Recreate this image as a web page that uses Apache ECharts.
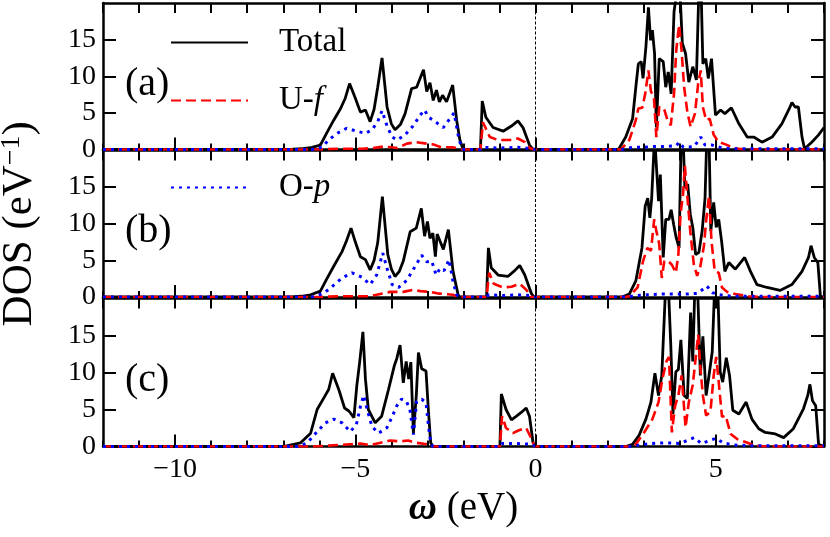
<!DOCTYPE html>
<html>
<head>
<meta charset="utf-8">
<script src="https://cdn.jsdelivr.net/npm/echarts@6/dist/echarts.min.js"></script>
<style>
  html, body { margin: 0; padding: 0; background: #fff; }
  #chart { width: 830px; height: 537px; }
</style>
</head>
<body>
<div id="chart"></div>
<script>
(function(){

  // tick values and names
  var xTicks = [-10, -5, 0, 5];
  var yTicks = [0, 5, 10, 15];
  var seriesNames = ['Total', 'U-f', 'O-p'];
  var panelLabels = ['(a)', '(b)', '(c)'];

  // panel (a)
  var totalA = [[-12,0],[-6.8,0],[-6.5,0.1],[-6.2,0.3],[-5.97,0.6],[-5.8,2.2],[-5.6,4.0],[-5.41,5.6],[-5.28,7.0],[-5.16,9.0],[-5.0,7.0],[-4.86,5.1],[-4.72,5.4],[-4.59,3.8],[-4.48,5.5],[-4.38,8.5],[-4.26,12.5],[-4.12,5.8],[-4.0,3.5],[-3.9,2.7],[-3.75,3.4],[-3.62,4.9],[-3.44,8.3],[-3.3,8.5],[-3.11,10.9],[-3.02,7.9],[-2.93,9.1],[-2.84,6.7],[-2.75,8.1],[-2.67,6.5],[-2.58,7.4],[-2.47,6.5],[-2.3,8.8],[-2.19,4.0],[-2.1,1.3],[-2.01,0],[-1.53,0],[-1.48,6.6],[-1.38,4.4],[-1.18,3.0],[-0.9,2.5],[-0.67,3.2],[-0.49,3.9],[-0.35,3.0],[-0.17,0.6],[-0.07,0],[2.3,0],[2.5,1.7],[2.69,4.2],[2.78,8.5],[2.85,11.7],[2.93,12.0],[2.98,9.7],[3.06,14.0],[3.13,19.4],[3.19,14.9],[3.24,16.3],[3.3,13.1],[3.35,3.0],[3.43,12.4],[3.54,12.0],[3.61,8.5],[3.68,10.6],[3.76,7.6],[3.84,18.8],[3.93,22],[4.0,22],[4.07,14.5],[4.16,13.1],[4.25,9.2],[4.36,11.3],[4.46,9.5],[4.53,22],[4.59,22],[4.64,11.7],[4.72,12.4],[4.79,9.7],[4.88,12.4],[4.99,4.7],[5.13,5.4],[5.25,4.9],[5.43,5.7],[5.64,3.5],[5.87,1.7],[6.05,1.7],[6.28,1.0],[6.56,1.7],[6.83,3.5],[7.02,5.4],[7.11,6.4],[7.2,5.8],[7.29,5.8],[7.39,1.7],[7.46,0.1],[7.66,1.0],[7.85,2.0],[8,3.0]];
  var ufA = [[-12,0],[-6.0,0],[-5.5,0.1],[-4.8,0.1],[-4.5,0.2],[-4.23,0.4],[-4.0,0.3],[-3.84,0.2],[-3.57,0.8],[-3.3,1.0],[-3.02,0.8],[-2.84,0.7],[-2.62,0.3],[-2.3,0.3],[-2.05,0],[-1.53,0],[-1.46,3.7],[-1.27,1.7],[-1.04,1.3],[-0.72,1.3],[-0.49,1.5],[-0.3,1.0],[-0.17,0.2],[-0.05,0],[2.37,0],[2.6,1.3],[2.78,4.0],[2.85,5.6],[2.96,5.7],[3.04,7.6],[3.13,10.8],[3.2,7.9],[3.28,7.2],[3.35,1.7],[3.43,5.8],[3.56,5.6],[3.66,4.0],[3.75,3.3],[3.84,7.6],[3.9,13.5],[3.98,17.0],[4.05,13.5],[4.12,8.5],[4.21,5.1],[4.3,3.1],[4.42,4.9],[4.51,9.0],[4.58,10.8],[4.64,5.8],[4.73,4.0],[4.83,4.2],[4.94,2.0],[5.08,1.0],[5.27,0.7],[5.5,0.2],[5.8,0],[8,0]];
  var opA = [[-12,0],[-6.2,0],[-5.93,0.3],[-5.74,1.3],[-5.51,2.2],[-5.24,2.9],[-4.96,2.5],[-4.72,2.2],[-4.54,2.7],[-4.38,3.8],[-4.26,5.3],[-4.12,3.2],[-3.98,1.7],[-3.84,1.3],[-3.62,2.0],[-3.4,3.2],[-3.2,4.7],[-3.08,5.4],[-2.97,4.4],[-2.84,4.0],[-2.7,3.5],[-2.56,3.0],[-2.38,4.2],[-2.26,5.0],[-2.15,2.0],[-2.06,0.3],[-2.0,0],[-1.53,0],[-1.45,0.3],[-1.0,0.2],[-0.5,0.3],[-0.1,0.1],[0,0],[2.4,0],[2.7,0.3],[3.0,0.3],[3.2,0.4],[3.5,0.4],[3.9,0.5],[3.98,1.0],[4.1,0.3],[4.4,0.4],[4.58,1.7],[4.7,0.6],[4.9,0.6],[5.2,0.2],[5.5,0.1],[8,0.1]];

  // panel (b)
  var totalB = [[-12,0],[-6.8,0],[-6.5,0.1],[-6.24,0.3],[-5.97,0.8],[-5.8,2.4],[-5.6,4.2],[-5.37,6.2],[-5.25,7.6],[-5.12,9.4],[-5.0,7.5],[-4.86,5.5],[-4.72,5.1],[-4.59,3.7],[-4.48,5.0],[-4.38,7.4],[-4.25,13.7],[-4.1,5.8],[-4.0,3.8],[-3.9,2.8],[-3.78,3.5],[-3.67,4.9],[-3.48,8.9],[-3.31,9.4],[-3.17,12.1],[-3.08,8.3],[-3.0,10.3],[-2.93,8.0],[-2.85,8.7],[-2.78,5.5],[-2.73,8.6],[-2.65,7.6],[-2.56,6.5],[-2.42,9.2],[-2.29,3.5],[-2.15,0.3],[-2.1,0],[-1.36,0],[-1.31,6.7],[-1.23,4.0],[-1.04,3.0],[-0.77,2.8],[-0.58,3.6],[-0.44,4.3],[-0.3,3.0],[-0.12,0.5],[-0.05,0],[2.4,0],[2.6,0.4],[2.78,2.2],[2.95,6.7],[3.04,12.4],[3.11,13.5],[3.17,10.8],[3.22,13.5],[3.3,22],[3.35,22],[3.41,13.1],[3.46,16.7],[3.54,5.4],[3.61,10.6],[3.7,10.6],[3.76,11.9],[3.83,9.9],[3.9,8.1],[3.98,6.7],[4.03,19.9],[4.09,22],[4.14,14.9],[4.22,15.4],[4.29,11.3],[4.36,9.5],[4.44,5.8],[4.53,6.1],[4.62,9.0],[4.7,13.5],[4.75,22],[4.81,22],[4.86,9.0],[4.94,12.9],[5.01,9.5],[5.08,10.6],[5.16,7.6],[5.25,3.5],[5.36,4.7],[5.54,3.8],[5.8,5.4],[5.96,3.5],[6.14,1.7],[6.42,1.3],[6.78,0.9],[7.11,1.7],[7.39,3.5],[7.57,5.4],[7.64,7.0],[7.73,5.4],[7.83,4.7],[7.9,0.1],[8,0]];
  var ufB = [[-12,0],[-6.0,0],[-5.5,0.1],[-4.6,0.1],[-4.41,0.3],[-4.04,0.7],[-3.67,0.7],[-3.39,1.0],[-3.2,0.8],[-2.93,0.7],[-2.73,0.5],[-2.29,0.3],[-2.15,0],[-1.36,0],[-1.29,3.3],[-1.16,1.8],[-0.9,1.3],[-0.67,1.4],[-0.44,1.8],[-0.26,1.0],[-0.12,0],[2.5,0],[2.6,0.1],[2.83,1.3],[2.98,4.9],[3.1,6.7],[3.2,6.3],[3.29,10.6],[3.35,9.0],[3.43,7.2],[3.5,2.6],[3.57,4.9],[3.68,4.9],[3.78,4.4],[3.89,3.3],[3.96,5.8],[4.02,11.3],[4.09,14.0],[4.14,17.9],[4.22,13.1],[4.29,9.0],[4.39,4.4],[4.48,2.9],[4.57,4.2],[4.67,7.0],[4.73,10.4],[4.81,13.8],[4.88,7.6],[4.97,3.5],[5.08,3.3],[5.17,1.3],[5.31,0.7],[5.54,0.4],[5.9,0.1],[6.2,0],[8,0]];
  var opB = [[-12,0],[-6.2,0],[-5.88,0.5],[-5.65,1.4],[-5.37,2.6],[-5.09,3.3],[-4.82,2.7],[-4.59,1.7],[-4.41,3.0],[-4.24,6.0],[-4.12,3.9],[-3.98,1.7],[-3.8,1.3],[-3.57,2.3],[-3.34,4.2],[-3.16,5.7],[-3.02,4.8],[-2.88,4.9],[-2.76,3.0],[-2.65,3.9],[-2.54,3.6],[-2.4,5.1],[-2.29,2.1],[-2.19,0.3],[-2.1,0],[-1.36,0],[-1.3,0.3],[-0.9,0.2],[-0.5,0.3],[-0.15,0.2],[0,0],[2.5,0],[2.8,0.2],[3.1,0.3],[3.5,0.4],[3.9,0.4],[4.2,0.4],[4.5,0.5],[4.75,1.5],[4.9,0.6],[5.1,0.3],[5.5,0.1],[8,0.1]];

  // panel (c)
  var totalC = [[-12,0],[-7.0,0],[-6.52,0.5],[-6.24,1.8],[-6.06,5.0],[-5.87,6.6],[-5.74,7.7],[-5.63,9.9],[-5.46,7.7],[-5.3,5.2],[-5.18,4.8],[-5.04,3.9],[-4.96,8.2],[-4.88,11.4],[-4.79,15.5],[-4.72,9.1],[-4.64,5.0],[-4.45,3.2],[-4.27,4.1],[-4.08,7.7],[-3.92,10.9],[-3.85,11.9],[-3.76,13.7],[-3.67,8.6],[-3.59,11.5],[-3.52,9.1],[-3.46,11.4],[-3.39,1.8],[-3.31,6.8],[-3.25,12.7],[-3.16,10.5],[-3.04,10.2],[-2.97,4.6],[-2.91,0.5],[-2.85,0],[-0.99,0],[-0.95,7.1],[-0.82,5.0],[-0.67,3.6],[-0.53,4.1],[-0.4,4.6],[-0.26,5.2],[-0.17,4.1],[-0.07,0.5],[0,0],[2.5,0],[2.69,0.3],[2.87,1.5],[3.06,3.7],[3.2,6.0],[3.31,9.9],[3.41,6.9],[3.5,9.6],[3.61,22],[3.68,22],[3.75,13.7],[3.81,4.4],[3.89,10.1],[3.96,10.4],[4.03,14.4],[4.12,6.9],[4.21,6.5],[4.3,18.1],[4.36,11.5],[4.42,22],[4.49,22],[4.57,9.6],[4.64,14.9],[4.73,6.9],[4.81,9.6],[4.9,12.8],[4.97,22],[5.05,22],[5.12,10.1],[5.19,8.7],[5.29,12.0],[5.38,9.6],[5.47,4.9],[5.64,4.4],[5.84,6.0],[6.0,3.7],[6.19,2.4],[6.37,1.9],[6.65,1.7],[6.88,1.2],[7.15,2.4],[7.43,5.1],[7.55,6.9],[7.61,8.4],[7.68,6.2],[7.77,5.5],[7.85,0.3],[8,0]];
  var ufC = [[-12,0],[-6.2,0],[-5.8,0.1],[-4.86,0.4],[-4.59,0.2],[-4.3,0.5],[-4.04,0.8],[-3.76,0.7],[-3.53,0.8],[-3.31,0.5],[-3.01,0.3],[-2.9,0],[-0.99,0],[-0.93,4.1],[-0.82,2.5],[-0.63,1.8],[-0.46,2.2],[-0.26,2.5],[-0.12,1.1],[-0.03,0],[2.6,0],[2.78,0.3],[3.01,1.9],[3.24,3.7],[3.41,6.0],[3.52,9.2],[3.63,11.5],[3.7,12.1],[3.78,1.9],[3.87,5.5],[3.96,6.9],[4.05,9.6],[4.16,2.6],[4.25,6.0],[4.36,8.3],[4.45,12.4],[4.51,15.1],[4.58,10.1],[4.64,6.9],[4.73,4.2],[4.85,4.7],[4.94,9.6],[5.01,12.1],[5.08,8.7],[5.17,4.0],[5.27,4.2],[5.41,1.7],[5.59,1.0],[5.82,0.6],[6.1,0.1],[6.4,0],[8,0]];
  var opC = [[-12,0],[-6.6,0],[-6.33,0.5],[-6.06,2.0],[-5.83,3.2],[-5.6,3.7],[-5.37,3.2],[-5.14,2.0],[-4.97,3.0],[-4.86,5.4],[-4.77,6.9],[-4.66,4.8],[-4.54,2.7],[-4.36,1.8],[-4.13,2.5],[-3.99,3.9],[-3.85,5.5],[-3.72,6.4],[-3.58,6.1],[-3.48,4.8],[-3.39,1.6],[-3.3,6.1],[-3.16,6.4],[-3.04,5.9],[-2.97,2.7],[-2.91,0.5],[-2.85,0],[-0.99,0],[-0.93,0.4],[-0.5,0.4],[-0.1,0.3],[0,0],[2.6,0],[2.9,0.2],[3.2,0.4],[3.6,0.5],[4.0,0.4],[4.4,1.2],[4.6,0.4],[5.0,1.1],[5.2,0.5],[5.5,0.2],[6,0.1],[8,0.1]];

  var panels = [[totalA, ufA, opA], [totalB, ufB, opB], [totalC, ufC, opC]];

  var FONT = '"Liberation Serif", "Times New Roman", serif';
  var lineStyles = [
    { color: '#000000', width: 2.8, type: 'solid' },
    { color: '#ff0000', width: 2.6, type: [10, 5] },
    { color: '#0000ff', width: 3, type: [3, 5] }
  ];
  var gridBox = [
    { top: 3, height: 146.5 },
    { top: 150.5, height: 146.5 },
    { top: 298.5, height: 148 }
  ];
  var labelY = [84, 231, 380];

  function minusFmt(v) {
    return v < 0 ? '\u2212' + Math.abs(v) : String(v);
  }

  var grid = [], xAxis = [], yAxis = [], series = [], graphic = [];

  gridBox.forEach(function (g, i) {
    grid.push({ left: 103, right: 6, top: g.top, height: g.height,
      containLabel: false, outerBoundsMode: 'none' });

    // bottom axis with major ticks
    xAxis.push({
      gridIndex: i, type: 'value', position: 'bottom', min: -12, max: 8,
      axisLine: { onZero: false, lineStyle: { color: '#000', width: 2.5 } },
      axisTick: { inside: true, length: 12, customValues: xTicks, lineStyle: { color: '#000', width: 2 } },
      axisLabel: { show: i === 2, customValues: xTicks, formatter: minusFmt,
        fontFamily: FONT, fontSize: 28, color: '#000', margin: 9 },
      splitLine: { show: false },
      name: i === 2 ? '{w|\u03c9} (eV)' : '',
      nameLocation: 'middle', nameGap: 43,
      nameTextStyle: { fontFamily: FONT, fontSize: 39, color: '#000',
        rich: { w: { fontFamily: FONT, fontSize: 39, fontStyle: 'italic', fontWeight: 'bold', color: '#000' } } }
    });
    // bottom minor ticks
    xAxis.push({
      gridIndex: i, type: 'value', position: 'bottom', min: -12, max: 8, interval: 1,
      axisLine: { show: false, onZero: false },
      axisTick: { inside: true, length: 6, lineStyle: { color: '#000', width: 2 } },
      axisLabel: { show: false }, splitLine: { show: false }
    });
    // top mirror
    xAxis.push({
      gridIndex: i, type: 'value', position: 'top', min: -12, max: 8, interval: 1,
      axisLine: { onZero: false, lineStyle: { color: '#000', width: 2.5 } },
      axisTick: { inside: true, length: 10, lineStyle: { color: '#000', width: 2 } },
      axisLabel: { show: false }, splitLine: { show: false }
    });

    yAxis.push({
      gridIndex: i, type: 'value', position: 'left', min: 0, max: 20,
      axisLine: { onZero: false, lineStyle: { color: '#000', width: 2.5 } },
      axisTick: { inside: true, length: 13, customValues: yTicks, lineStyle: { color: '#000', width: 2 } },
      axisLabel: { customValues: yTicks, fontFamily: FONT, fontSize: 28, color: '#000', margin: 7 },
      splitLine: { show: false },
      name: i === 1 ? 'DOS (eV{s|\u22121})' : '',
      nameLocation: 'middle', nameRotate: 90, nameGap: 62,
      nameTextStyle: { fontFamily: FONT, fontSize: 43, color: '#000',
        rich: { s: { fontFamily: FONT, fontSize: 28, color: '#000', verticalAlign: 'top' } } }
    });
    yAxis.push({
      gridIndex: i, type: 'value', position: 'right', min: 0, max: 20,
      axisLine: { onZero: false, lineStyle: { color: '#000', width: 2.5 } },
      axisTick: { inside: true, length: 13, customValues: yTicks, lineStyle: { color: '#000', width: 2 } },
      axisLabel: { show: false }, splitLine: { show: false }
    });

    panels[i].forEach(function (d, k) {
      var s = {
        type: 'line', name: seriesNames[k],
        xAxisIndex: 3 * i, yAxisIndex: 2 * i,
        data: d, symbol: 'none', showSymbol: false,
        lineStyle: lineStyles[k], itemStyle: { color: lineStyles[k].color },
        emphasis: { disabled: true }, silent: true
      };
      if (k === 0) {
        s.markLine = {
          silent: true, symbol: ['none', 'none'], label: { show: false },
          lineStyle: { color: '#000', width: 1, type: [3, 2] },
          data: [{ xAxis: 0 }]
        };
      }
      series.push(s);
    });

    graphic.push({
      type: 'text', x: 125, y: labelY[i], z: 10,
      style: { text: panelLabels[i], fontFamily: FONT, fontSize: 40, fill: '#000', verticalAlign: 'middle' }
    });
  });

  function legendAt(name, top) {
    return {
      data: [name], left: 170, top: top, orient: 'vertical', padding: 0,
      itemWidth: 77, itemHeight: 14, selectedMode: false,
      itemStyle: { opacity: 0 },
      formatter: function (n) { return n.replace('-f', '-{i|f}').replace('-p', '-{i|p}'); },
      textStyle: { fontFamily: FONT, fontSize: 33, color: '#000', padding: [0, 0, 0, 26],
        rich: { i: { fontFamily: FONT, fontSize: 33, fontStyle: 'italic', color: '#000' } } }
    };
  }

  var chart = echarts.init(document.getElementById('chart'));
  chart.setOption({
    animation: false,
    backgroundColor: '#fff',
    grid: grid,
    xAxis: xAxis,
    yAxis: yAxis,
    legend: [legendAt('Total', 26), legendAt('U-f', 84), legendAt('O-p', 171)],
    graphic: graphic,
    series: series
  });

})();
</script>
</body>
</html>
